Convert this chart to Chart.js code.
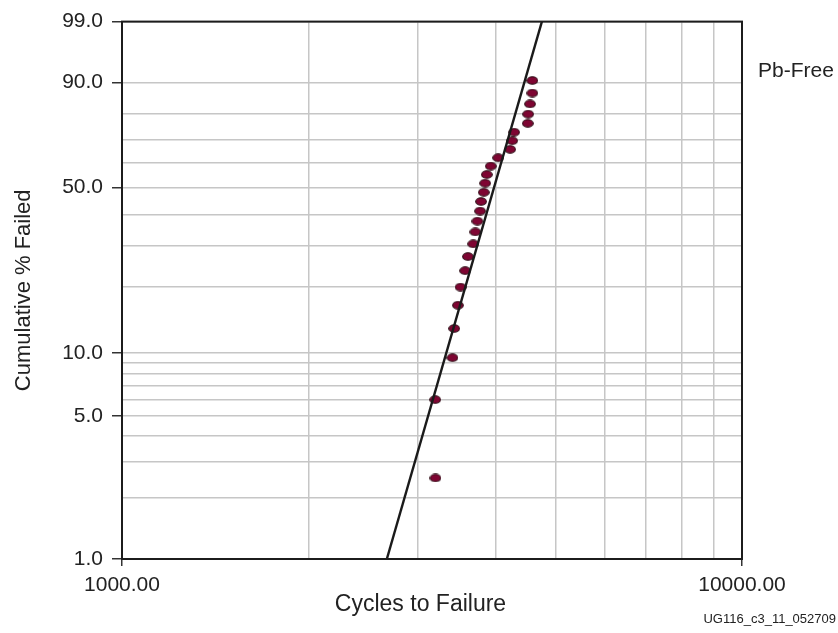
<!DOCTYPE html>
<html>
<head>
<meta charset="utf-8">
<style>
  html, body { margin: 0; padding: 0; background: #ffffff; }
  #wrap { position: relative; width: 838px; height: 633px; }
  canvas { display: block; }
</style>
<script src="https://cdn.jsdelivr.net/npm/chart.js@4.4.1/dist/chart.umd.min.js"></script>
</head>
<body>
<div id="wrap"><canvas id="plot" width="838" height="633"></canvas></div>
<script>
// Failure data: cycles at failure and cumulative percent failed
const cycles = [3203, 3200, 3412, 3434, 3482, 3516, 3577, 3613, 3685, 3715, 3743, 3781, 3795,
                3833, 3852, 3876, 3934, 4043, 4227, 4259, 4290, 4513, 4519, 4551, 4590, 4590];
const pctFailed = [2.5, 6.0, 9.5, 13.0, 16.6, 20.0, 23.6, 27.1, 30.6, 34.2, 37.7, 41.2, 44.7,
                   48.2, 51.8, 55.3, 58.8, 62.3, 65.8, 69.4, 72.9, 76.4, 79.9, 83.5, 87.0, 90.5];

// Fitted Weibull line end points
const fitCycles = [2674, 4756];
const fitPct = [1, 99];

// Probability-axis grid and labels
const yGridPct = [1, 2, 3, 4, 5, 6, 7, 8, 9, 10, 20, 30, 40, 50, 60, 70, 80, 90, 99];
const yLabelPct = [1, 5, 10, 50, 90, 99];
const xGridCycles = [1000, 2000, 3000, 4000, 5000, 6000, 7000, 8000, 9000, 10000];
const xLabelCycles = [1000, 10000];

const seriesName = 'Pb-Free';
const xTitle = 'Cycles to Failure';
const yTitle = 'Cumulative % Failed';
const footnote = 'UG116_c3_11_052709';

// Weibull probability transform: ln(-ln(1 - F))
const weib = p => Math.log(-Math.log(1 - p / 100));

const FONT = '"Liberation Sans", Arial, Helvetica, sans-serif';

// Elliptical marker
function makeMarker() {
  const c = document.createElement('canvas');
  c.width = 12; c.height = 9;
  const g = c.getContext('2d');
  g.beginPath();
  g.ellipse(6, 4.5, 5.3, 3.7, 0, 0, Math.PI * 2);
  g.fillStyle = '#7e0532';
  g.fill();
  g.lineWidth = 1.1;
  g.strokeStyle = '#2a0912';
  g.stroke();
  return c;
}

const pointData = cycles.map((c, i) => ({ x: c, y: weib(pctFailed[i]) }));
const fitData = fitCycles.map((c, i) => ({ x: c, y: weib(fitPct[i]) }));

const frameAndText = {
  id: 'frameAndText',
  afterDraw(chart) {
    const { ctx, chartArea: a } = chart;
    ctx.save();
    ctx.strokeStyle = '#1c1c1c';
    ctx.lineWidth = 2;
    ctx.strokeRect(a.left, a.top, a.right - a.left, a.bottom - a.top);
    ctx.fillStyle = '#222';
    ctx.textAlign = 'center';
    ctx.textBaseline = 'alphabetic';
    ctx.font = '23px ' + FONT;
    ctx.fillText(xTitle, 420.5, 611);
    ctx.font = '21px ' + FONT;
    ctx.textAlign = 'left';
    ctx.fillText(seriesName, 758, 77);
    ctx.font = '13px ' + FONT;
    ctx.textAlign = 'right';
    ctx.textBaseline = 'middle';
    ctx.fillText(footnote, 836, 619);
    ctx.restore();
  }
};

new Chart(document.getElementById('plot'), {
  type: 'scatter',
  data: {
    datasets: [
      {
        type: 'line',
        label: 'fit',
        data: fitData,
        borderColor: '#1a1a1a',
        borderWidth: 2.4,
        pointRadius: 0,
        fill: false,
        order: 0
      },
      {
        label: seriesName,
        data: pointData,
        pointStyle: makeMarker(),
        pointRadius: 5,
        order: 1
      }
    ]
  },
  plugins: [frameAndText],
  options: {
    responsive: false,
    devicePixelRatio: 1,
    animation: false,
    layout: { padding: { left: 0, top: 19, right: 96, bottom: 0 } },
    plugins: {
      legend: { display: false },
      tooltip: { enabled: false }
    },
    scales: {
      x: {
        type: 'logarithmic',
        min: 1000,
        max: 10000,
        afterBuildTicks: s => { s.ticks = xGridCycles.map(v => ({ value: v })); },
        afterFit: s => { s.height = 74; },
        border: { display: false },
        grid: {
          color: '#c6c6c6',
          lineWidth: 1.5,
          drawTicks: true,
          tickLength: 7,
          tickWidth: 1.5,
          tickColor: ctx => xLabelCycles.includes(ctx.tick && ctx.tick.value) ? '#333' : 'rgba(0,0,0,0)'
        },
        ticks: {
          autoSkip: false,
          maxRotation: 0,
          padding: 7,
          color: '#222',
          font: { family: FONT, size: 21 },
          callback: v => xLabelCycles.includes(v) ? v.toFixed(2) : ''
        },
        title: { display: false }
      },
      y: {
        type: 'linear',
        min: weib(1),
        max: weib(99),
        afterBuildTicks: s => { s.ticks = yGridPct.map(p => ({ value: weib(p) })); },
        afterFit: s => { s.width = 122; },
        border: { display: false },
        grid: {
          color: '#c6c6c6',
          lineWidth: 1.5,
          drawTicks: true,
          tickLength: 10,
          tickWidth: 1.5,
          tickColor: ctx => yLabelPct.includes(yGridPct[ctx.index]) ? '#333' : 'rgba(0,0,0,0)'
        },
        ticks: {
          autoSkip: false,
          padding: 9,
          color: '#222',
          font: { family: FONT, size: 21 },
          callback: (v, i) => yLabelPct.includes(yGridPct[i]) ? yGridPct[i].toFixed(1) : ''
        },
        title: {
          display: true,
          text: yTitle,
          color: '#222',
          font: { family: FONT, size: 22 },
          padding: { top: 11, bottom: 0 }
        }
      }
    }
  }
});
</script>
</body>
</html>
